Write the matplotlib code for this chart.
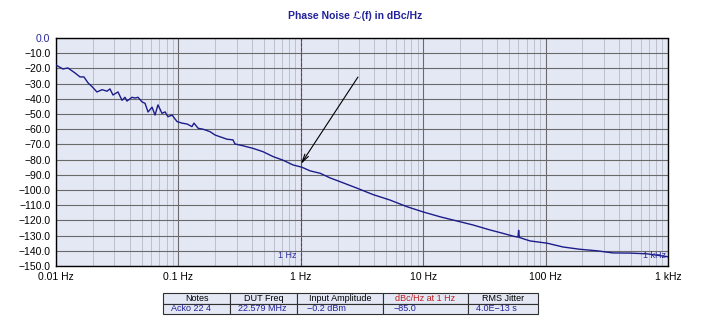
import matplotlib.pyplot as plt
from matplotlib.ticker import FixedLocator, NullFormatter

plt.rcParams['font.family'] = ['Liberation Sans', 'DejaVu Sans']

# phase noise curve
freq_hz = [0.01, 0.0114, 0.0125, 0.0143, 0.0157, 0.0169, 0.0183, 0.0197, 0.0216, 0.0238,
           0.0261, 0.0276, 0.0292, 0.0321, 0.0346, 0.0366, 0.038, 0.0418, 0.0442, 0.0468,
           0.0504, 0.0534, 0.0565, 0.0609, 0.0644, 0.0681, 0.0735, 0.0778, 0.0822, 0.0887,
           0.0975, 0.107, 0.118, 0.129, 0.134, 0.145, 0.159, 0.181, 0.199, 0.219,
           0.25, 0.279, 0.29, 0.337, 0.407, 0.491, 0.593, 0.716, 0.863, 1.02,
           1.19, 1.44, 1.73, 2.09, 2.88, 3.89, 5.35, 7.38, 9.96, 13.7,
           18.9, 25.5, 35.2, 42.4, 55.2, 59.5, 60.2, 61.0, 65.3, 74.6,
           103, 139, 191, 263, 355, 490, 674, 981, 1000]
noise_dbc = [-17.8, -20.4, -19.7, -23.0, -25.6, -25.6, -29.6, -32.0, -35.5, -34.0,
             -35.0, -33.5, -37.5, -35.5, -41.0, -39.0, -41.5, -39.0, -39.5, -39.0,
             -42.0, -43.0, -48.7, -45.5, -50.7, -44.0, -49.6, -48.6, -51.8, -50.7,
             -55.0, -56.0, -56.6, -58.3, -56.0, -59.4, -60.0, -61.6, -63.8, -65.0,
             -66.6, -67.0, -69.7, -70.9, -72.6, -74.8, -78.0, -80.4, -83.5, -85.0,
             -87.4, -89.0, -92.0, -94.5, -98.8, -103.0, -106.6, -111.0, -114.4, -117.6,
             -120.4, -123.0, -126.3, -128.0, -130.5, -131.0, -126.5, -131.2, -132.0, -133.5,
             -135.0, -137.5, -139.0, -140.0, -141.4, -141.5, -142.0, -143.8, -144.0]

decade_ticks = [0.01, 0.1, 1, 10, 100, 1000]
decade_labels = ['0.01 Hz', '0.1 Hz', '1 Hz', '10 Hz', '100 Hz', '1 kHz']
db_ticks = list(range(0, -160, -10))

marker_freq = 1.0
arrow_tip = (1.0, -83.0)
arrow_tail = (2.93, -25.7)

table_header = ['Notes', 'DUT Freq', 'Input Amplitude', 'dBc/Hz at 1 Hz', 'RMS Jitter']
table_values = ['Acko 22 4', '22.579 MHz', '\u22120.2 dBm', '\u221285.0', '4.0E\u221213 s']

W, H = 714, 334
fig = plt.figure(figsize=(W / 100, H / 100), dpi=100)
ax = fig.add_axes([56 / W, 1 - 266 / H, (668 - 56) / W, (266 - 38) / H])
ax.set_facecolor('#e4e8f5')

ax.semilogx(freq_hz, noise_dbc, color='#1c1c8a', lw=1.0, zorder=3)
ax.set_xlim(0.01, 1000)
ax.set_ylim(-150, 0)

minor = [m * d for d in decade_ticks[:-1] for m in range(2, 10)]
ax.xaxis.set_major_locator(FixedLocator(decade_ticks))
ax.xaxis.set_minor_locator(FixedLocator(minor))
ax.xaxis.set_minor_formatter(NullFormatter())
ax.set_xticks(decade_ticks, decade_labels)
ax.set_yticks(db_ticks, [f'{v:.1f}'.replace('-', '\u2212') for v in db_ticks])
ax.tick_params(axis='both', which='both', length=0, labelsize=7.5, pad=4)
ax.get_yticklabels()[0].set_color('#2a2a9a')

ax.grid(True, which='major', axis='both', color='#6a6a6a', lw=0.8)
ax.grid(True, which='minor', axis='x', color='#bcc0cc', lw=0.7)
ax.set_axisbelow(True)
for s in ax.spines.values():
    s.set_color('black')
    s.set_linewidth(1.0)
ax.spines['right'].set_linestyle((0, (2, 1)))

ax.axvline(marker_freq, color='#8a3050', lw=0.8, ls=(0, (3, 1.5)), zorder=2)
ax.text(0.93, -143, '1 Hz', color='#2a2a9a', fontsize=6.5, ha='right', va='center')
ax.text(960, -143, '1 kHz', color='#2a2a9a', fontsize=6.5, ha='right', va='center', zorder=4)

ax.annotate('', xy=arrow_tip, xytext=arrow_tail,
            arrowprops=dict(arrowstyle='->,head_length=0.6,head_width=0.15',
                            color='black', lw=0.8, shrinkA=0, shrinkB=0), zorder=5)

fig.text(355 / W, 1 - 16 / H, 'Phase Noise \u2112(f) in dBc/Hz', color='#22229a',
         fontsize=7.5, fontweight='bold', ha='center', va='center',
         family=['Liberation Sans', 'DejaVu Sans'])

# info table under the chart
tax = fig.add_axes([163 / W, 1 - 314 / H, (538 - 163) / W, 21 / H])
tax.axis('off')
widths = [67, 67, 86, 85, 70]
tot = sum(widths)
tbl = tax.table(cellText=[table_header, table_values], colWidths=[w / tot for w in widths],
                bbox=[0, 0, 1, 1], cellLoc='center')
tbl.auto_set_font_size(False)
for (r, c), cell in tbl.get_celld().items():
    cell.set_facecolor('#e4e8f5')
    cell.set_edgecolor('#303030')
    cell.set_linewidth(0.8)
    txt = cell.get_text()
    txt.set_fontsize(6.5)
    if r == 0:
        txt.set_color('#c02020' if c == 3 else 'black')
    else:
        txt.set_color('#22229a')
        txt.set_ha('left')
        cell.PAD = 0.12

fig.savefig('out.png', dpi=100, facecolor='white')
